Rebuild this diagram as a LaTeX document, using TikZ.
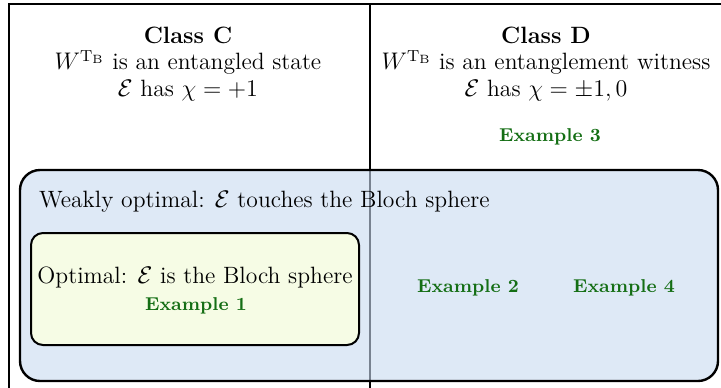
\documentclass[tikz,border=0pt]{standalone}
\usepackage{amsmath}
\definecolor{exgreen}{RGB}{20,110,20}
\definecolor{wkblue}{RGB}{200,218,240}
\definecolor{optyellow}{RGB}{246,252,229}
\begin{document}
\begin{tikzpicture}[x=0.5pt,y=-0.5pt,
  font=\fontsize{11.8}{13.4}\selectfont,
  frameline/.style={line width=1.1pt},
  classtext/.style={align=center},
  extext/.style={text=exgreen,font=\fontsize{9.3}{11}\selectfont\bfseries},
  weakbox/.style={draw,line width=1.2pt,rounded corners=10pt,fill=wkblue,fill opacity=0.6,text opacity=1},
  optbox/.style={draw,line width=1pt,rounded corners=6pt,fill=optyellow}]
\useasboundingbox (0,0) rectangle (721,387);
% frame lines
\coordinate (tl) at (9,4);
\coordinate (tr) at (725,4);
\coordinate (bl) at (9,392);
\coordinate (mt) at (370,4);
\coordinate (mb) at (370,392);
\draw[frameline] (bl) -- (tl) -- (tr);
\draw[frameline] (mt) -- (mb);
% class headers
\node[classtext] (cc) at (188,64) {\textbf{Class C}\\$W^{\mathrm{T}_\mathrm{B}}$ is an entangled state\\$\mathcal{E}$ has $\chi=+1$};
\node[classtext] (cd) at (546,64) {\textbf{Class D}\\$W^{\mathrm{T}_\mathrm{B}}$ is an entanglement witness\\$\mathcal{E}$ has $\chi=\pm1,0$};
\node[extext] (ex3) at (550,137) {Example 3};
% weakly optimal box
\path[weakbox] (20,170) rectangle (718,381);
\node[anchor=west] (weak) at (32,202) {Weakly optimal: $\mathcal{E}$ touches the Bloch sphere};
% optimal box
\path[optbox] (31,233) rectangle (359,345);
\node (opt) at (195,277) {Optimal: $\mathcal{E}$ is the Bloch sphere};
\node[extext] (ex1) at (196,306) {Example 1};
\node[extext] (ex2) at (468,288) {Example 2};
\node[extext] (ex4) at (624,288) {Example 4};
\end{tikzpicture}
\end{document}
